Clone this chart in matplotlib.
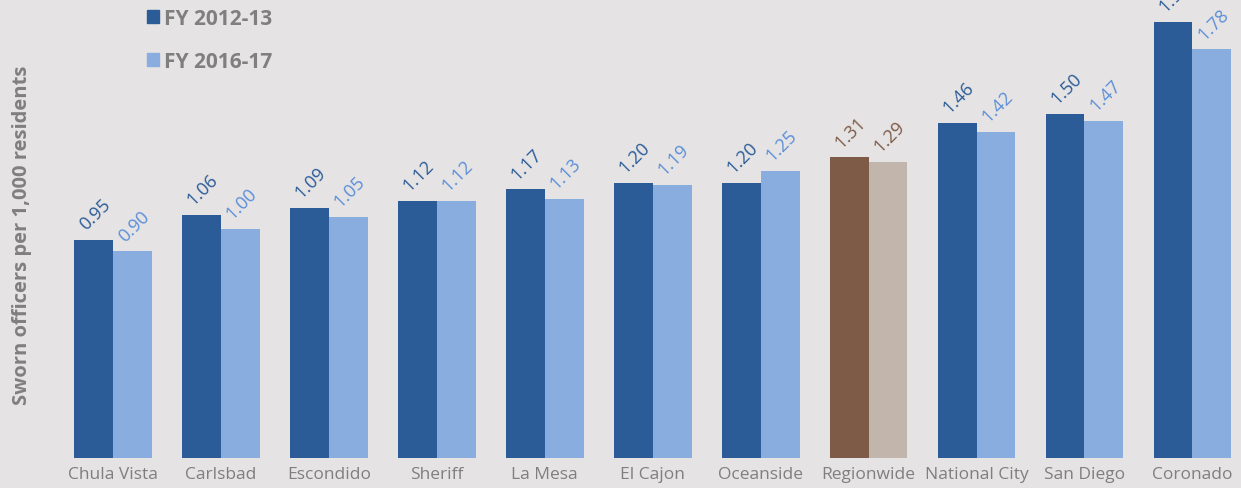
import numpy as np
import matplotlib.pyplot as plt
from matplotlib.patches import Patch

cities = ['Chula Vista', 'Carlsbad', 'Escondido', 'Sheriff', 'La Mesa', 'El Cajon',
          'Oceanside', 'Regionwide', 'National City', 'San Diego', 'Coronado']
fy_2012 = [0.95, 1.06, 1.09, 1.12, 1.17, 1.20, 1.20, 1.31, 1.46, 1.50, 1.90]
fy_2016 = [0.90, 1.00, 1.05, 1.12, 1.13, 1.19, 1.25, 1.29, 1.42, 1.47, 1.78]

bg = '#E5E3E4'
dark = '#2B5C97'
light = '#8AADDF'
dark_txt = '#2B5C97'
light_txt = '#5B8FD8'
brown = '#7D5B47'
brown_light = '#C2B5AC'
grey = '#7F7F7F'

plt.rcParams['font.family'] = ['Open Sans', 'DejaVu Sans']

fig = plt.figure(figsize=(12.41, 4.89), dpi=100, facecolor=bg)
ax = fig.add_axes([59 / 1241, 30 / 489, 1 - 59 / 1241, 1 - 30 / 489], facecolor=bg)

x = np.arange(len(cities))
w = 0.36
c1 = [brown if c == 'Regionwide' else dark for c in cities]
c2 = [brown_light if c == 'Regionwide' else light for c in cities]
ax.bar(x - w / 2, fy_2012, w, color=c1)
ax.bar(x + w / 2, fy_2016, w, color=c2)

# rotated value labels above each bar
for i in range(len(cities)):
    t1 = brown if cities[i] == 'Regionwide' else dark_txt
    t2 = brown if cities[i] == 'Regionwide' else light_txt
    ax.annotate(f'{fy_2012[i]:.2f}', (x[i] - w / 2, fy_2012[i]), xytext=(1, 5),
                textcoords='offset points', ha='center', va='bottom', rotation=45,
                fontsize=13, color=t1)
    ax.annotate(f'{fy_2016[i]:.2f}', (x[i] + w / 2, fy_2016[i]), xytext=(1, 5),
                textcoords='offset points', ha='center', va='bottom', rotation=45,
                fontsize=13, color=t2)

ax.set_xlim(-0.5, 10.45)
ax.set_ylim(0, 2.0)
ax.set_xticks(x)
ax.set_xticklabels(cities, fontsize=12.5, color=grey)
ax.tick_params(axis='x', length=0, pad=6)
ax.set_yticks([])
for s in ax.spines.values():
    s.set_visible(False)

fig.text(22 / 1241, 1 - 235 / 489, 'Sworn officers per 1,000 residents', rotation=90,
         ha='center', va='center', fontsize=14.5, fontweight='bold', color=grey)

handles = [Patch(color=dark, label='FY 2012-13'), Patch(color=light, label='FY 2016-17')]
leg = fig.legend(handles=handles, loc='upper left', bbox_to_anchor=(128 / 1241, 1.02),
                 frameon=False, handlelength=0.6, handleheight=0.6, handletextpad=0.25,
                 labelspacing=1.05, prop={'size': 15, 'weight': 'bold'})
for t in leg.get_texts():
    t.set_color(grey)

fig.savefig('out.png', dpi=100, facecolor=bg)
